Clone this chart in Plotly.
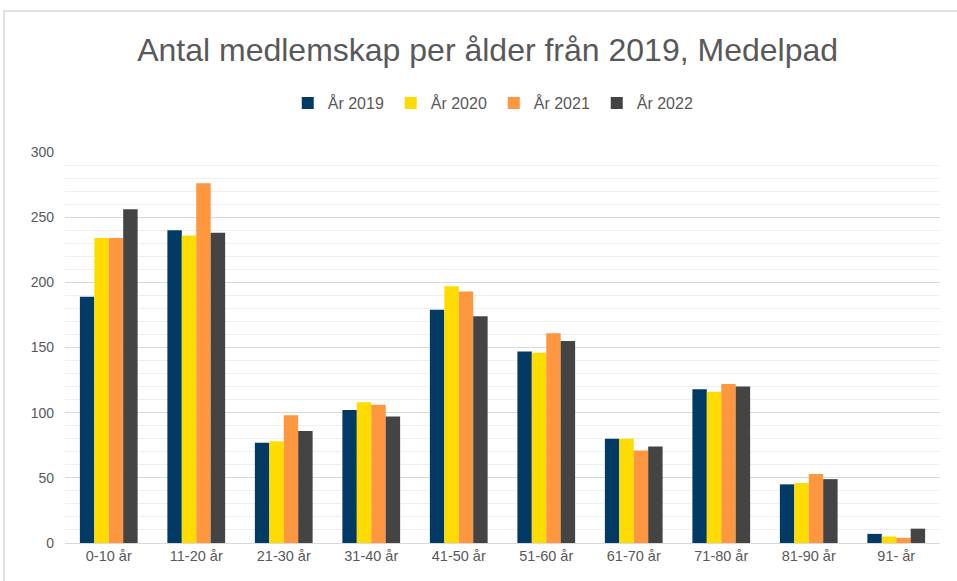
import plotly.graph_objects as go

categories = ["0-10 år", "11-20 år", "21-30 år", "31-40 år", "41-50 år",
              "51-60 år", "61-70 år", "71-80 år", "81-90 år", "91- år"]
series_names = ["År 2019", "År 2020", "År 2021", "År 2022"]
v2019 = [189, 240, 77, 102, 179, 147, 80, 118, 45, 7]
v2020 = [234, 236, 78, 108, 197, 146, 80, 116, 46, 5]
v2021 = [234, 276, 98, 106, 193, 161, 71, 122, 53, 4]
v2022 = [256, 238, 86, 97, 174, 155, 74, 120, 49, 11]
colors = ["#023a66", "#ffdc00", "#ff9640", "#444444"]
y_ticks = [0, 50, 100, 150, 200, 250, 300]

fig = go.Figure()
for name, vals, col in zip(series_names, [v2019, v2020, v2021, v2022], colors):
    fig.add_trace(go.Bar(x=categories, y=vals, name=name,
                         marker=dict(color=col, line=dict(width=0))))

fig.update_layout(
    width=957, height=581,
    margin=dict(l=65, r=17, t=152, b=38),
    paper_bgcolor="white", plot_bgcolor="white",
    barmode="group", bargap=0.34, bargroupgap=0,
    font=dict(family="Liberation Sans, Arial, sans-serif", color="#595959", size=14),
    title=dict(text="Antal medlemskap per ålder från 2019, Medelpad",
               x=0.5095, xref="container", xanchor="center", y=0.914, yanchor="middle",
               font=dict(size=32, color="#595959")),
    legend=dict(orientation="h", x=0.49, xanchor="center", y=1.125, yanchor="middle",
                font=dict(size=16, color="#595959"), itemwidth=30,
                entrywidth=58, entrywidthmode="pixels",
                traceorder="normal", bgcolor="rgba(0,0,0,0)"),
    showlegend=True,
)
fig.update_yaxes(range=[0, 300], tickvals=y_ticks, showgrid=True, gridcolor="#d9d9d9",
                 gridwidth=1, zeroline=False, showline=False, ticks="",
                 tickfont=dict(size=14, color="#595959"), ticklabelstandoff=10,
                 minor=dict(dtick=10, showgrid=True, gridcolor="#efefef", gridwidth=1))
fig.update_xaxes(showline=True, linecolor="#d9d9d9", linewidth=1, ticks="",
                 tickfont=dict(size=14.5, color="#595959"))
fig.add_shape(type="rect", xref="paper", yref="paper",
              x0=-0.0697, x1=1.03, y0=-0.2, y1=1.3606,
              line=dict(color="#d9d9d9", width=1.5), fillcolor="rgba(0,0,0,0)", layer="below")

fig.write_html("out.html")
